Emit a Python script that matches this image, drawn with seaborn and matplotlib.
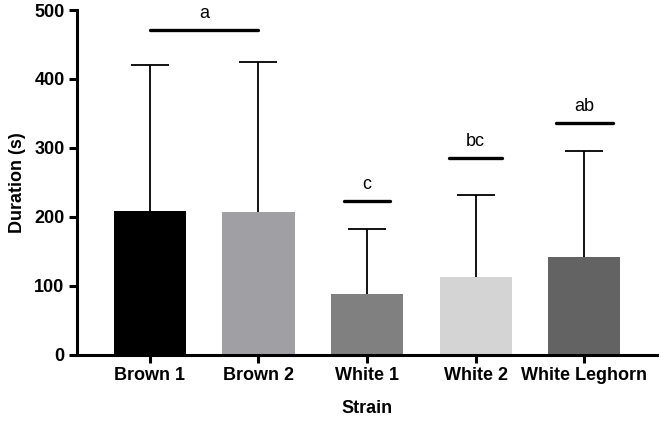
import matplotlib
matplotlib.use("Agg")
import matplotlib.pyplot as plt
import seaborn as sns

# summary values
strains = ["Brown 1", "Brown 2", "White 1", "White 2", "White Leghorn"]
mean_duration = [208, 207, 89, 113, 142]
upper_error = [213, 218, 93, 119, 154]
bar_colors = ["#000000", "#a0a0a4", "#808080", "#d4d4d4", "#636363"]

# significance groups
sig_letters = ["a", "c", "bc", "ab"]
sig_heights = [471, 223, 285, 336]
sig_spans = [(0, 1), (1.79, 2.21), (2.755, 3.245), (3.74, 4.26)]

sns.set_style("ticks")
plt.rcParams['font.family'] = ['Liberation Sans', 'DejaVu Sans']
plt.rcParams['text.color'] = 'black'
plt.rcParams['axes.labelcolor'] = 'black'

fig = plt.figure(figsize=(6.61, 4.22), dpi=100)
ax = fig.add_axes([0.1165, 0.1588, 0.8775, 0.8175])

sns.barplot(x=strains, y=mean_duration, hue=strains, palette=bar_colors,
            width=0.665, saturation=1, legend=False, linewidth=0, ax=ax)

eb = ax.errorbar(range(len(strains)), mean_duration,
                 yerr=[[0] * len(strains), upper_error], fmt='none',
                 ecolor='black', elinewidth=1.3, capsize=13.7, capthick=1.3,
                 zorder=3)
# only the upper cap is shown
eb[1][0].remove()

for letter, h, (x0, x1) in zip(sig_letters, sig_heights, sig_spans):
    ax.plot([x0, x1], [h, h], color='black', lw=2.4, solid_capstyle='round',
            zorder=4)
    ax.text((x0 + x1) / 2, h + 18, letter, ha='center', va='baseline',
            fontsize=13, color='black')

ax.set_xlim(-0.67, 4.67)
ax.set_ylim(0, 500)
ax.set_yticks([0, 100, 200, 300, 400, 500])

for side in ['top', 'right']:
    ax.spines[side].set_visible(False)
for side in ['left', 'bottom']:
    ax.spines[side].set_linewidth(2.2)
    ax.spines[side].set_color('black')

ax.tick_params(width=2.2, length=6, labelsize=13, colors='black', pad=3)
for lab in ax.get_xticklabels() + ax.get_yticklabels():
    lab.set_fontweight('bold')

ax.set_xlabel("Strain", fontsize=13, fontweight='bold', labelpad=11)
ax.set_ylabel("Duration (s)", fontsize=13, fontweight='bold', labelpad=6)

fig.savefig("out.png", dpi=100)
